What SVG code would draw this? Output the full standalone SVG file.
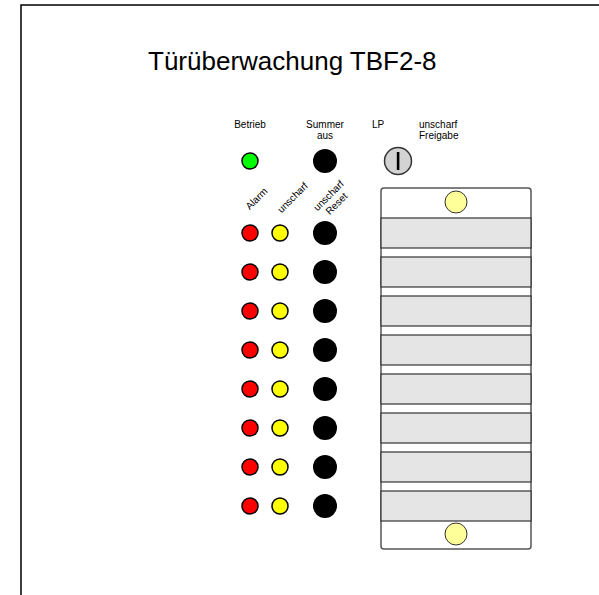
<svg xmlns="http://www.w3.org/2000/svg" width="599" height="595" viewBox="0 0 599 595">
<style>
text{font-family:"Liberation Sans",Arial,sans-serif;fill:#000}
.lbl{font-size:10px}
.title{font-size:26px}
.red{fill:#ff0000;stroke:#000;stroke-width:1.5}
.yel{fill:#ffff00;stroke:#000;stroke-width:1.5}
.grn{fill:#00ff00;stroke:#000;stroke-width:1.5}
.btn{fill:#000}
.pale{fill:#ffff99;stroke:#333;stroke-width:1}
.strip{fill:#e5e5e5;stroke:#333;stroke-width:1.2}
</style>
<rect width="599" height="595" fill="#fff"/>
<g id="frame"><path d="M21,595 V5 H599" fill="none" stroke="#000" stroke-width="1.5"/></g>
<g id="title"><text class="title" x="148" y="70">Türüberwachung TBF2-8</text></g>
<g id="labels">
<text class="lbl" x="250" y="128" text-anchor="middle">Betrieb</text>
<text class="lbl" x="325" y="128" text-anchor="middle">Summer</text>
<text class="lbl" x="325" y="139" text-anchor="middle">aus</text>
<text class="lbl" x="372" y="128">LP</text>
<text class="lbl" x="419" y="128">unscharf</text>
<text class="lbl" x="419" y="139">Freigabe</text>
<text class="lbl" text-anchor="middle" transform="translate(259,201) rotate(-45)">Alarm</text>
<text class="lbl" text-anchor="middle" transform="translate(295,200) rotate(-45)">unscharf</text>
<text class="lbl" text-anchor="middle" transform="translate(331,198) rotate(-45)">unscharf</text>
<text class="lbl" text-anchor="middle" transform="translate(339,206) rotate(-45)">Reset</text>
</g>
<g id="betrieb"><circle class="grn" cx="250" cy="161" r="8"/></g>
<g id="summer"><circle class="btn" cx="325" cy="161" r="12"/></g>
<g id="key"><circle cx="398" cy="161" r="13.5" fill="#d3d3d3" stroke="#333" stroke-width="1.5"/><rect x="396.8" y="152" width="2.6" height="18" fill="#000"/></g>
<g id="rows">
<g id="row1"><circle class="red" cx="250" cy="233" r="8"/><circle class="yel" cx="280" cy="233" r="8"/><circle class="btn" cx="325" cy="233" r="12"/></g>
<g id="row2"><circle class="red" cx="250" cy="272" r="8"/><circle class="yel" cx="280" cy="272" r="8"/><circle class="btn" cx="325" cy="272" r="12"/></g>
<g id="row3"><circle class="red" cx="250" cy="311" r="8"/><circle class="yel" cx="280" cy="311" r="8"/><circle class="btn" cx="325" cy="311" r="12"/></g>
<g id="row4"><circle class="red" cx="250" cy="350" r="8"/><circle class="yel" cx="280" cy="350" r="8"/><circle class="btn" cx="325" cy="350" r="12"/></g>
<g id="row5"><circle class="red" cx="250" cy="389" r="8"/><circle class="yel" cx="280" cy="389" r="8"/><circle class="btn" cx="325" cy="389" r="12"/></g>
<g id="row6"><circle class="red" cx="250" cy="428" r="8"/><circle class="yel" cx="280" cy="428" r="8"/><circle class="btn" cx="325" cy="428" r="12"/></g>
<g id="row7"><circle class="red" cx="250" cy="467" r="8"/><circle class="yel" cx="280" cy="467" r="8"/><circle class="btn" cx="325" cy="467" r="12"/></g>
<g id="row8"><circle class="red" cx="250" cy="506" r="8"/><circle class="yel" cx="280" cy="506" r="8"/><circle class="btn" cx="325" cy="506" r="12"/></g>
</g>
<g id="panel">
<rect x="381" y="188" width="150" height="361" rx="3" fill="#fff" stroke="#555" stroke-width="1.5"/>
<circle class="pale" cx="456" cy="202" r="11"/>
<rect class="strip" x="381" y="218" width="150" height="30"/>
<rect class="strip" x="381" y="257" width="150" height="30"/>
<rect class="strip" x="381" y="296" width="150" height="30"/>
<rect class="strip" x="381" y="335" width="150" height="30"/>
<rect class="strip" x="381" y="374" width="150" height="30"/>
<rect class="strip" x="381" y="413" width="150" height="30"/>
<rect class="strip" x="381" y="452" width="150" height="30"/>
<rect class="strip" x="381" y="491" width="150" height="30"/>
<circle class="pale" cx="456" cy="534" r="11"/>
</g>
</svg>
